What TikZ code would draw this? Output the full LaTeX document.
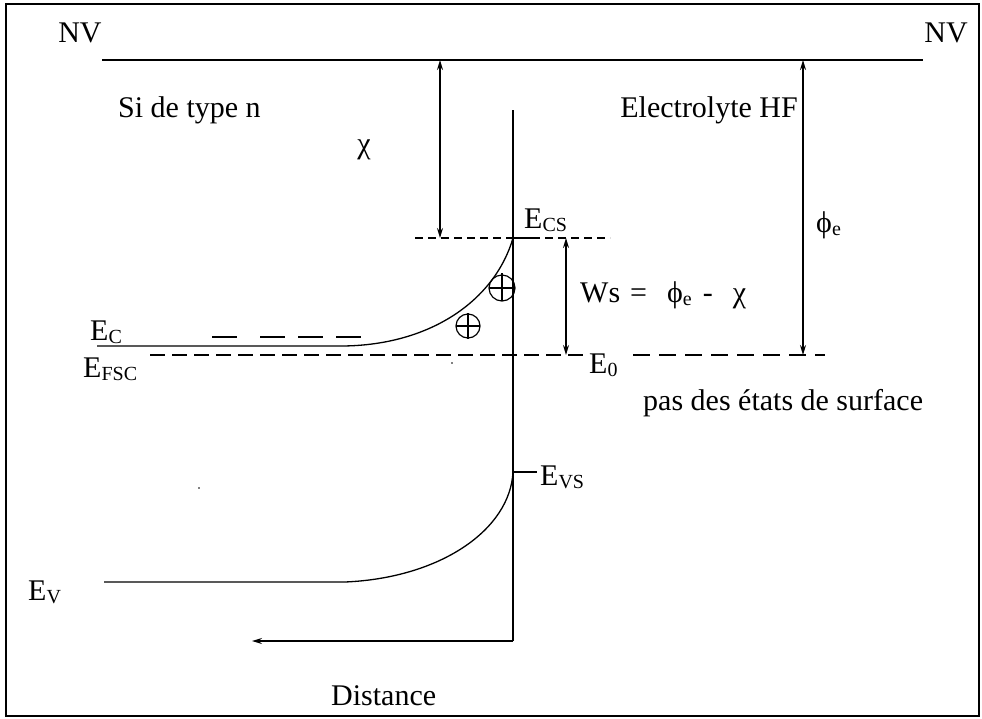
\documentclass[tikz,border=0pt]{standalone}
\usepackage{fontspec}
\setmainfont{Liberation Serif}
\usetikzlibrary{arrows.meta}
\newcommand\lowsub[1]{\raisebox{-3.5pt}{\fontsize{20}{22}\selectfont #1}}
\begin{document}
\begin{tikzpicture}[x=1pt,y=-1pt,
  txt/.style={inner sep=0pt,font=\fontsize{30}{35}\selectfont},
  band/.style={line width=1.3pt},
  dlineA/.style={line width=1.2pt,dash pattern=on 15pt off 7pt},
  dlineB/.style={line width=1.2pt,dash pattern=on 8pt off 5pt},
  dlineC/.style={line width=1.2pt,dash pattern=on 17pt off 9pt},
  dim/.style={line width=1.4pt,{Stealth[length=10pt,width=6pt]}-{Stealth[length=10pt,width=6pt]}},
  plusmark/.style={line width=1.2pt}]
\useasboundingbox (0,0) rectangle (982,718);
\draw[line width=1.6pt] (6,4) rectangle (979,716);

% coordinates
\coordinate (nvL) at (102,60);
\coordinate (nvR) at (923,60);
\coordinate (chiTop) at (440,60);
\coordinate (chiBot) at (440,238);
\coordinate (phiTop) at (803,60);
\coordinate (phiBot) at (803,355);
\coordinate (wsTop) at (566,238);
\coordinate (wsBot) at (566,355);
\coordinate (ifTop) at (513,110);
\coordinate (ifBot) at (513,641);
\coordinate (distEnd) at (252,641);
\coordinate (ecsL) at (415,238);
\coordinate (ecsR) at (610,238);
\coordinate (ecs) at (513,238);
\coordinate (ecsTick) at (536,238);
\coordinate (evs) at (513,472);
\coordinate (evsTick) at (537,472);
\coordinate (ecL) at (97,346);
\coordinate (ecM) at (337,346);
\coordinate (evL) at (104,582);
\coordinate (evM) at (345,582);
\coordinate (efL) at (150,355);
\coordinate (efM) at (583,355);
\coordinate (eoL) at (633,355);
\coordinate (eoR) at (825,355);

% texts
\node[txt] (nv1) at (80,33) {NV};
\node[txt] (nv2) at (946,33) {NV};
\node[txt,anchor=base west] (si) at (118,117) {Si de type n};
\node[txt,anchor=base east] (hf) at (798,117) {Electrolyte HF};
\node[txt] (chi) at (364,150) {χ};
\node[txt,anchor=base west] (ecslab) at (524,228) {E\lowsub{CS}};
\node[txt,anchor=base west] (phil) at (816,232) {ϕ\lowsub{e}};
\node[txt,anchor=base west] (ws) at (580,302) {Ws\hspace{10pt}=\hspace{20pt}ϕ\lowsub{e}\hspace{11pt}-\hspace{20pt}χ};
\node[txt,anchor=base west] (eclab) at (90,340) {E\lowsub{C}};
\node[txt,anchor=base west] (efsc) at (83,377) {E\lowsub{FSC}};
\node[txt,anchor=base west] (e0) at (589,373) {E\lowsub{0}};
\node[txt,anchor=base west] (pas) at (643,410) {pas des états de surface};
\node[txt,anchor=base west] (evslab) at (540,485) {E\lowsub{VS}};
\node[txt,anchor=base west] (evlab) at (28,600) {E\lowsub{V}};
\node[txt,anchor=base west] (dist) at (331,705) {Distance};

% lines
\draw[line width=1.8pt] (nvL) -- (nvR);
\draw[band] (ifTop) -- (ifBot);
\draw[band,-{Stealth[length=10pt,width=6pt]}] (ifBot) -- (distEnd);
\draw[dim] (chiTop) -- (chiBot);
\draw[dim] (phiTop) -- (phiBot);
\draw[dim] (wsTop) -- (wsBot);
\draw[dlineB] (ecsL) -- (ecsR);
\draw[band] (ecs) -- (ecsTick);
\draw[band] (evs) -- (evsTick);
\draw[dlineA] (efL) -- (efM);
\draw[dlineC] (eoL) -- (eoR);

% conduction band
\draw[band] (ecL) -- (ecM) .. controls (430,347) and (495,300) .. (ecs);
% valence band
\draw[band] (evL) -- (evM) .. controls (440,578) and (510,530) .. (evs);

% short dashes above E_C
\foreach \a/\b in {212/237,260/285,298/323,336/361}
  \draw[line width=1.2pt] (\a,337) -- (\b,337);

% holes
\draw[plusmark] (502,288) circle (13);
\draw[plusmark] (489,288) -- (515,288) (502,273) -- (502,301);
\draw[plusmark] (468,326) circle (12);
\draw[plusmark] (456,326) -- (480,326) (468,313) -- (468,339);

% stray dots
\fill (452,363) circle (0.8);
\fill (199,488) circle (0.8);
\end{tikzpicture}
\end{document}
